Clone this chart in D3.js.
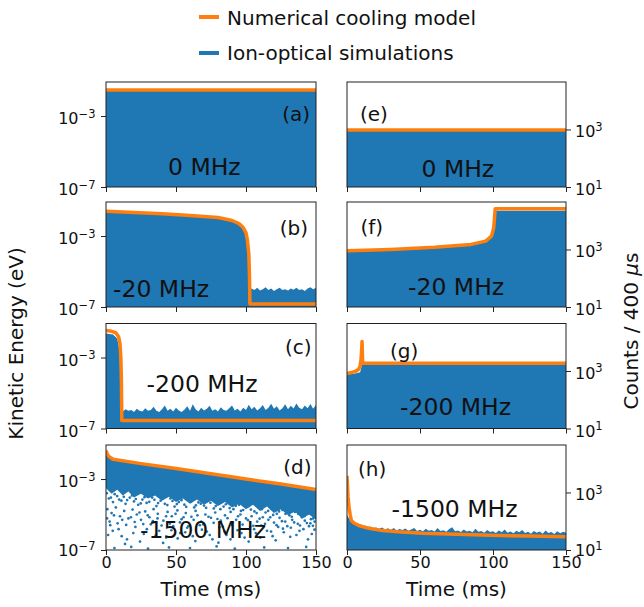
<!DOCTYPE html>
<html><head><meta charset="utf-8">
<script src="https://cdn.jsdelivr.net/npm/d3@7"></script>
<style>
body{margin:0;background:#fff;}
svg{display:block;font-family:"DejaVu Sans",sans-serif;}
</style></head><body>
<svg id="chart" width="644" height="607"></svg>
<script>
// ---------------- data ----------------
const timeTicks = [0, 50, 100, 150];
const energyTicks = [1e-7, 1e-3];
const energyTickExp = ["\u22127", "\u22123"];
const countTicks = [10, 1000];
const countTickExp = ["1", "3"];
const panelLetters = ["(a)", "(b)", "(c)", "(d)", "(e)", "(f)", "(g)", "(h)"];
const detunings = ["0 MHz", "-20 MHz", "-200 MHz", "-1500 MHz"];
const legendLabels = ["Numerical cooling model", "Ion-optical simulations"];

// (a) 0 MHz, energy
const modelA = [[0, 2.9e-2], [150, 2.9e-2]];
const simA = [[0, 2.6e-2], [150, 2.6e-2]];

// (b) -20 MHz, energy
const modelB = [[0, 2.5e-2], [20, 2.1e-2], [40, 1.8e-2], [60, 1.45e-2], [80, 1.1e-2], [90, 7.5e-3], [95, 5e-3], [98, 3e-3], [100, 1.5e-3], [101, 6e-4], [102, 1e-4], [102.5, 5e-6], [102.8, 1.5e-7], [150, 1.5e-7]];
const simBHead = [[0, 2.3e-2], [20, 1.95e-2], [40, 1.65e-2], [60, 1.35e-2], [80, 1.0e-2], [90, 7e-3], [95, 4.5e-3], [98, 2.6e-3], [100, 1.3e-3], [101.5, 5e-4], [102.5, 8e-5], [103.2, 1e-6]];
const bNoise = [[104, 1.1e-6], [106, 9e-7], [108, 1.2e-6], [110, 8.5e-7], [112, 1.0e-6], [114, 1.3e-6], [116, 9e-7], [118, 1.1e-6], [120, 8e-7], [122, 1.0e-6], [124, 1.2e-6], [126, 9e-7], [128, 1.0e-6], [130, 8.5e-7], [132, 1.1e-6], [134, 9.5e-7], [136, 1.2e-6], [138, 9e-7], [140, 1.0e-6], [142, 8e-7], [144, 1.1e-6], [146, 1.3e-6], [148, 1.0e-6], [150, 1.2e-6]];

// (c) -200 MHz, energy
const modelC = [[0, 3.3e-2], [4, 3e-2], [7, 2.5e-2], [9, 1.5e-2], [10, 6e-3], [10.6, 1e-3], [11, 5e-5], [11.3, 2.8e-7], [150, 2.8e-7]];
const simCHead = [[0, 2.3e-2], [5, 2.0e-2], [8, 1.2e-2], [9.5, 3e-3], [10.3, 1e-4], [10.8, 1.2e-6]];
const cNoise = [[12, 9e-7], [14, 1.2e-6], [16, 1.0e-6], [18, 1.1e-6], [20, 8.5e-7], [22, 1.3e-6], [24, 1.0e-6], [26, 9e-7], [28, 1.4e-6], [30, 1.0e-6], [32, 1.1e-6], [34, 1.7e-6], [36, 1.0e-6], [38, 8.5e-7], [40, 1.2e-6], [42, 2.0e-6], [44, 1.0e-6], [46, 1.3e-6], [48, 9e-7], [50, 1.5e-6], [52, 1.05e-6], [54, 8.5e-7], [56, 1.15e-6], [58, 1.8e-6], [60, 1.0e-6], [62, 2.3e-6], [64, 1.2e-6], [66, 9e-7], [68, 1.5e-6], [70, 1.05e-6], [72, 1.3e-6], [74, 1.9e-6], [76, 1.0e-6], [78, 1.2e-6], [80, 9e-7], [82, 1.6e-6], [84, 1.1e-6], [86, 1.0e-6], [88, 1.4e-6], [90, 2.0e-6], [92, 1.05e-6], [94, 1.3e-6], [96, 9e-7], [98, 1.5e-6], [100, 1.1e-6], [102, 2.2e-6], [104, 1.2e-6], [106, 1.7e-6], [108, 1.05e-6], [110, 1.4e-6], [112, 2.1e-6], [114, 1.1e-6], [116, 1.5e-6], [118, 2.5e-6], [120, 1.3e-6], [122, 1.8e-6], [124, 1.05e-6], [126, 1.4e-6], [128, 2.3e-6], [130, 1.2e-6], [132, 1.9e-6], [134, 1.35e-6], [136, 2.6e-6], [138, 1.5e-6], [140, 1.2e-6], [142, 2.0e-6], [144, 1.4e-6], [146, 2.4e-6], [148, 1.3e-6], [150, 2.1e-6]];

// (d) -1500 MHz, energy
const modelD = [[0, 4e-2], [1, 2.5e-2], [2, 1.9e-2], [5, 1.3e-2], [25, 7.4e-3], [50, 3.9e-3], [75, 2.0e-3], [100, 1.0e-3], [125, 5.2e-4], [150, 2.6e-4]];
const simDTop = [[0, 3.6e-2], [1, 2.3e-2], [2, 1.7e-2], [5, 1.2e-2], [25, 6.8e-3], [50, 3.6e-3], [75, 1.85e-3], [100, 9.3e-4], [125, 4.8e-4], [150, 2.4e-4]];
const dDenseLow = [[0, 3e-4], [4, 1.5e-4], [8, 2.5e-4], [12, 1.2e-4], [16, 2e-4], [20, 9e-5], [25, 1.5e-4], [30, 8e-5], [35, 1.2e-4], [40, 6e-5], [45, 1e-4], [50, 5e-5], [55, 8e-5], [60, 4e-5], [65, 7e-5], [70, 3.5e-5], [75, 6e-5], [80, 3e-5], [85, 5e-5], [90, 2.5e-5], [95, 4e-5], [100, 2e-5], [105, 3.5e-5], [110, 1.6e-5], [115, 2.8e-5], [120, 1.2e-5], [125, 2e-5], [130, 9e-6], [135, 1.5e-5], [140, 6e-6], [145, 1e-5], [150, 5e-6]];
const dDots = [
  [2, 8e-5], [5, 5e-5], [8, 1.1e-4], [11, 6e-5], [14, 4e-5], [17, 9e-5], [20, 5.5e-5], [23, 3.5e-5], [26, 7e-5], [29, 4.5e-5], [33, 9e-5], [36, 3e-5], [39, 6e-5], [42, 4e-5], [46, 8e-5], [49, 2.8e-5], [52, 5e-5], [56, 3.6e-5], [59, 7e-5], [63, 2.5e-5], [66, 4.8e-5], [70, 3.2e-5], [73, 6e-5], [77, 2.2e-5], [80, 4e-5], [84, 2.8e-5], [87, 5e-5], [91, 2e-5], [95, 3.6e-5], [98, 1.8e-5], [102, 3e-5], [106, 1.5e-5], [110, 2.6e-5], [114, 1.3e-5], [118, 2.2e-5], [122, 1.1e-5], [126, 1.8e-5], [131, 9e-6], [135, 1.4e-5], [140, 7e-6], [144, 1.1e-5], [148, 6e-6],
  [1, 2e-5], [4, 1.2e-5], [7, 2.5e-5], [10, 8e-6], [13, 1.6e-5], [16, 6e-6], [19, 1.9e-5], [22, 1e-5], [25, 5e-6], [28, 1.5e-5], [31, 7e-6], [34, 2e-5], [37, 1.1e-5], [41, 4.5e-6], [44, 1.4e-5], [47, 8e-6], [51, 1.7e-5], [54, 5.5e-6], [57, 1.2e-5], [61, 7.5e-6], [64, 1.6e-5], [68, 4e-6], [71, 1e-5], [75, 6.5e-6], [78, 1.3e-5], [82, 4.5e-6], [85, 9e-6], [89, 1.4e-5], [93, 5e-6], [96, 1e-5], [100, 6e-6], [104, 8e-6], [108, 4e-6], [112, 7e-6], [116, 5e-6], [120, 3.5e-6], [124, 6.5e-6], [128, 4e-6], [133, 5e-6], [137, 3e-6], [142, 4.5e-6], [146, 3.2e-6], [149, 4e-6],
  [3, 2.5e-6], [9, 1.5e-6], [15, 4e-7], [21, 2e-6], [27, 8e-7], [32, 2.8e-6], [38, 1.2e-6], [43, 5e-7], [48, 2.2e-6], [53, 9e-7], [58, 1.8e-6], [62, 6e-7], [67, 2.5e-6], [72, 1.1e-6], [76, 4e-7], [81, 1.9e-6], [86, 7e-7], [90, 2.6e-6], [94, 1.3e-6], [99, 5e-7], [103, 2e-6], [107, 9e-7], [111, 2.4e-6], [115, 1.2e-6], [119, 6e-7], [123, 2e-6], [127, 1e-6], [132, 1.8e-6], [136, 7e-7], [141, 1.5e-6], [145, 2.2e-6], [147, 8e-7],
  [6, 1.3e-7], [18, 1.5e-7], [30, 1.2e-7], [45, 1.4e-7], [60, 1.3e-7], [79, 1.6e-7], [92, 1.2e-7], [113, 1.4e-7], [130, 1.3e-7], [143, 1.5e-7],
  [0.5, 1.6e-4], [3.5, 9e-5], [6.2, 1.4e-4], [9.4, 7e-5], [12.7, 1e-4], [15.1, 6.5e-5], [18.6, 1.2e-4], [21.3, 7.5e-5], [24.8, 4.2e-5], [27.5, 9.5e-5], [30.9, 5.2e-5], [34.6, 6.8e-5], [37.2, 4.4e-5], [40.4, 8.5e-5], [43.8, 3.4e-5], [47.5, 5.8e-5], [50.6, 3.9e-5], [53.9, 6.4e-5], [57.3, 2.7e-5], [60.8, 5.2e-5], [64.2, 3.3e-5], [67.7, 4.1e-5], [71.5, 2.4e-5], [74.6, 4.6e-5], [78.4, 3e-5], [81.7, 2e-5], [85.6, 3.8e-5], [88.3, 2.3e-5], [92.7, 3.1e-5], [96.4, 1.6e-5], [99.8, 2.7e-5], [103.5, 1.9e-5], [107.6, 1.2e-5], [111.3, 2e-5], [115.8, 1.6e-5], [119.4, 9.5e-6], [123.6, 1.5e-5], [128.2, 1.1e-5], [132.7, 7.5e-6], [137.3, 1.1e-5], [141.8, 8e-6], [146.4, 5.5e-6], [149.5, 8e-6],
  [0.8, 6e-6], [2.6, 4e-6], [5.7, 9e-6], [8.3, 3.2e-6], [11.6, 5e-6], [14.4, 2.6e-6], [17.8, 7e-6], [20.5, 3.8e-6], [23.9, 1.3e-5], [26.6, 2.9e-6], [29.8, 9e-6], [33.5, 4.2e-6], [36.8, 6e-6], [39.7, 2.4e-6], [42.9, 8e-6], [45.6, 3.1e-6], [49.7, 1.1e-5], [52.8, 3.6e-6], [55.4, 7e-6], [58.9, 2.2e-6], [62.6, 5e-6], [65.3, 9e-6], [69.4, 2.8e-6], [73.2, 7.5e-6], [76.9, 3.4e-6], [79.6, 5.6e-6], [83.4, 2.1e-6], [86.8, 6.2e-6], [90.5, 3.6e-6], [94.3, 8e-6], [97.6, 2.7e-6], [101.4, 4.8e-6], [105.2, 2.3e-6], [109.7, 5.8e-6], [113.6, 3e-6], [117.3, 7e-6], [121.8, 2.5e-6], [125.7, 4.2e-6], [129.5, 2.2e-6], [134.4, 3.6e-6], [138.6, 2.4e-6], [143.5, 3.3e-6], [147.8, 2.3e-6],
  [1.5, 7e-7], [4.8, 1.2e-6], [11.2, 6e-7], [13.6, 2.2e-7], [19.5, 9e-7], [24.3, 3e-7], [29.2, 1.5e-6], [35.5, 6.5e-7], [40.8, 2.5e-7], [46.7, 1.3e-6], [51.2, 4.5e-7], [56.6, 1e-6], [63.8, 3.2e-7], [68.5, 1.4e-6], [74.1, 7e-7], [80.3, 2.6e-7], [84.7, 1.1e-6], [88.9, 4e-7], [96.8, 9e-7], [101.9, 3e-7], [105.8, 1.5e-6], [110.2, 5e-7], [117.9, 1.1e-6], [121.2, 3.5e-7], [126.4, 1.6e-6], [131.6, 5.5e-7], [138.2, 1.2e-6], [144.3, 4e-7], [148.9, 1.4e-6]
];

// (e) 0 MHz, counts
const modelE = [[0, 950], [150, 950]];
const simE = [[0, 880], [150, 880]];

// (f) -20 MHz, counts
const modelF = [[0, 900], [30, 1000], [60, 1200], [85, 1500], [95, 1950], [99, 2900], [100.5, 5700], [101.5, 26000], [150, 26000]];
const simF = [[0, 830], [30, 920], [60, 1100], [85, 1380], [95, 1800], [99, 2600], [100.8, 5000], [101.8, 22000], [150, 22000]];

// (g) -200 MHz, counts
const modelG = [[0, 820], [3, 880], [6, 980], [8, 1150], [9, 1500], [9.6, 2500], [10, 5000], [10.3, 10500], [10.5, 5000], [10.7, 1860], [150, 1860]];
const simG = [[0, 760], [5, 800], [9, 900], [10.2, 1600], [150, 1600]];

// (h) -1500 MHz, counts
const modelH = [[0, 3800], [0.3, 1800], [0.7, 700], [1.4, 300], [2.2, 170], [3, 105], [5, 85], [8.7, 69], [15, 57], [22.4, 49], [35, 43], [52, 38], [75, 35], [98, 32.4], [125, 30.5], [150, 29]];
const simHHead = [[0, 160], [1, 135], [2, 115], [4, 98], [6, 88], [8, 80]];
const hNoise = [[10, 75], [12, 70], [14, 62], [16, 66], [18, 58], [20, 61], [22, 55], [24, 60], [26, 52], [28, 57], [30, 50], [32, 58], [34, 48], [36, 54], [38, 50], [40, 56], [42, 47], [44, 52], [46, 58], [48, 46], [50, 51], [52, 45], [54, 55], [56, 47], [58, 50], [60, 44], [62, 58], [64, 46], [66, 49], [68, 43], [70, 54], [72, 62], [74, 45], [76, 48], [78, 42], [80, 52], [82, 44], [84, 47], [86, 41], [88, 55], [90, 43], [92, 46], [94, 40], [96, 50], [98, 42], [100, 45], [102, 39], [104, 48], [106, 41], [108, 52], [110, 40], [112, 44], [114, 38], [116, 47], [118, 41], [120, 50], [122, 39], [124, 43], [126, 37], [128, 46], [130, 40], [132, 44], [134, 37], [136, 48], [138, 39], [140, 42], [142, 36], [144, 45], [146, 38], [148, 43], [150, 40]];

// ---------------- layout ----------------
const BLUE = "#1f77b4", ORANGE = "#ff7f0e";
const colX = [106, 347], colW = [210, 219];
const rowTop = [82, 202, 323.5, 445];
const PH = 105;
const xDomain = [0, 150];
const energyDomain = [1e-7, 8.3e-2];
const countDomain = [10, 4.47e4];

const panels = [
  {col: 0, row: 0, model: modelA, sim: simA, letterPos: [204, 39, "end"], labelPos: [62, 93]},
  {col: 0, row: 1, model: modelB, sim: simBHead.concat(bNoise), letterPos: [202, 32.5, "end"], labelPos: [7, 94.5]},
  {col: 0, row: 2, model: modelC, sim: simCHead.concat(cNoise), letterPos: [205.5, 30.5, "end"], labelPos: [40.5, 68]},
  {col: 0, row: 3, model: modelD, sim: null, letterPos: [205.5, 29, "end"], labelPos: [34, 93]},
  {col: 1, row: 0, model: modelE, sim: simE, letterPos: [13, 38.5, "start"], labelPos: [74.5, 94.5]},
  {col: 1, row: 1, model: modelF, sim: simF, letterPos: [13.5, 32, "start"], labelPos: [61, 93]},
  {col: 1, row: 2, model: modelG, sim: simG, letterPos: [43, 34, "start"], labelPos: [53, 91.5]},
  {col: 1, row: 3, model: modelH, sim: simHHead.concat(hNoise), letterPos: [11, 30.5, "start"], labelPos: [44.5, 71.5]}
];

const svg = d3.select("#chart");
const defs = svg.append("defs");

function supLabel(textSel, exp) {
  textSel.append("tspan").text("10");
  textSel.append("tspan").attr("font-size", "11.5px").attr("dy", -6.5).text(exp);
}

panels.forEach((p, i) => {
  const w = colW[p.col];
  const g = svg.append("g").attr("transform", `translate(${colX[p.col]},${rowTop[p.row]})`);
  const x = d3.scaleLinear().domain(xDomain).range([0, w]);
  const y = d3.scaleLog().domain(p.col === 0 ? energyDomain : countDomain).range([PH, 0]);
  const clipId = "clip" + i;
  defs.append("clipPath").attr("id", clipId).append("rect").attr("width", w).attr("height", PH);
  const plot = g.append("g").attr("clip-path", `url(#${clipId})`);

  if (p.sim) {
    const area = d3.area().x(d => x(d[0])).y0(PH).y1(d => y(d[1]));
    plot.append("path").datum(p.sim).attr("d", area).attr("fill", BLUE);
  } else {
    // panel (d): dense band plus scattered points
    const line = d3.line().x(d => x(d[0])).y(d => y(d[1]));
    const poly = simDTop.concat(dDenseLow.slice().reverse());
    plot.append("path").attr("d", line(poly) + "Z").attr("fill", BLUE);
    plot.selectAll("circle").data(dDots).join("circle")
      .attr("cx", d => x(d[0])).attr("cy", d => y(d[1])).attr("r", 1.35).attr("fill", BLUE);
  }
  const mline = d3.line().x(d => x(d[0])).y(d => y(d[1]));
  plot.append("path").datum(p.model).attr("d", mline)
    .attr("fill", "none").attr("stroke", ORANGE).attr("stroke-width", 3.5)
    .attr("stroke-linejoin", "round").attr("stroke-linecap", "butt");

  // x axis
  const xa = g.append("g").attr("transform", `translate(0,${PH})`)
    .call(d3.axisBottom(x).tickValues(timeTicks).tickSize(5).tickSizeOuter(0)
      .tickFormat(p.row === 3 ? d3.format("d") : () => ""));
  xa.select(".domain").remove();
  xa.selectAll("line").attr("stroke", "#222").attr("stroke-width", 1);
  xa.selectAll("text").attr("y", 17.5).attr("dy", 0).attr("font-size", "16px")
    .attr("font-family", "DejaVu Sans").attr("fill", "#111");

  // y axis
  const ticks = p.col === 0 ? energyTicks : countTicks;
  const exps = p.col === 0 ? energyTickExp : countTickExp;
  const yAxis = (p.col === 0 ? d3.axisLeft(y) : d3.axisRight(y))
    .tickValues(ticks).tickSize(5).tickSizeOuter(0).tickFormat(() => "");
  const ya = g.append("g").attr("transform", `translate(${p.col === 0 ? 0 : w},0)`).call(yAxis);
  ya.select(".domain").remove();
  ya.selectAll("line").attr("stroke", "#222").attr("stroke-width", 1);
  ya.selectAll(".tick").each(function(d, k) {
    const bottomTick = (p.row === 3 && k === 0);
    const t = d3.select(this).select("text").text(null)
      .attr("x", p.col === 0 ? -10.5 : 9).attr("dy", bottomTick ? 5.5 : 7.5)
      .attr("font-size", "16px").attr("font-family", "DejaVu Sans").attr("fill", "#111")
      .attr("text-anchor", p.col === 0 ? "end" : "start");
    supLabel(t, exps[k]);
  });

  // frame
  g.append("rect").attr("width", w).attr("height", PH)
    .attr("fill", "none").attr("stroke", "#222").attr("stroke-width", 1);

  // annotations
  g.append("text").attr("x", p.letterPos[0]).attr("y", p.letterPos[1])
    .attr("text-anchor", p.letterPos[2]).attr("font-size", "20px").attr("fill", "#111")
    .text(panelLetters[i]);
  g.append("text").attr("x", p.labelPos[0]).attr("y", p.labelPos[1])
    .attr("font-size", "23.5px").attr("fill", "#111")
    .text(detunings[p.row]);
});

// axis titles
[0, 1].forEach(c => {
  svg.append("text").attr("x", colX[c] + colW[c] / 2).attr("y", 596)
    .attr("text-anchor", "middle").attr("font-size", "20px").attr("fill", "#111")
    .text("Time (ms)");
});
svg.append("text").attr("transform", "translate(23,343.5) rotate(-90)")
  .attr("text-anchor", "middle").attr("font-size", "20px").attr("fill", "#111")
  .text("Kinetic Energy (eV)");
const rt = svg.append("text").attr("transform", "translate(638,331) rotate(-90)")
  .attr("text-anchor", "middle").attr("font-size", "20px").attr("fill", "#111");
rt.append("tspan").text("Counts / 400 ");
rt.append("tspan").attr("font-style", "italic").text("\u03bc");
rt.append("tspan").text("s");

// legend
const legColors = [ORANGE, BLUE];
const legY = [17, 53];
const legBase = [25, 60];
legendLabels.forEach((lab, k) => {
  svg.append("line").attr("x1", 199).attr("x2", 219).attr("y1", legY[k]).attr("y2", legY[k])
    .attr("stroke", legColors[k]).attr("stroke-width", 4);
  svg.append("text").attr("x", 227).attr("y", legBase[k]).attr("font-size", "20px")
    .attr("fill", "#111").text(lab);
});
</script></body></html>
